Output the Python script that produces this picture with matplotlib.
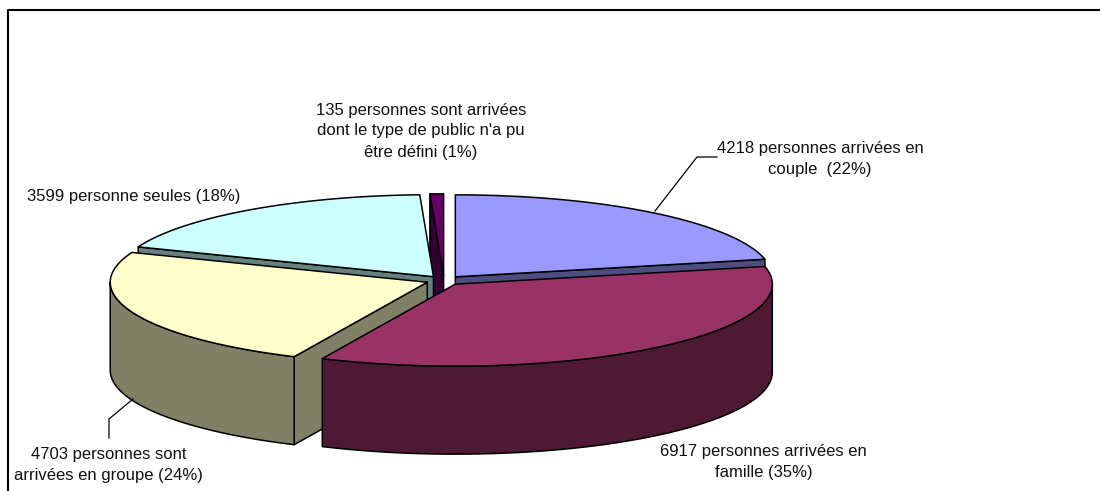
import numpy as np
import matplotlib
matplotlib.use('Agg')
import matplotlib.pyplot as plt
from matplotlib.patches import Polygon

plt.rcParams['font.family'] = ['Liberation Sans', 'DejaVu Sans']

# values, clockwise from 12 o'clock
counts = [4218, 6917, 4703, 3599, 135]
top_colors = ['#9999FF', '#993366', '#FFFFCC', '#CCFFFF', '#660066']
side_colors = ['#4D4D80', '#4D1933', '#808066', '#668080', '#330033']
labels = [
    "4218 personnes arrivées en\ncouple  (22%)",
    "6917 personnes arrivées en\nfamille (35%)",
    "4703 personnes sont\narrivées en groupe (24%)",
    "3599 personne seules (18%)",
    "135 personnes sont arrivées\ndont le type de public n'a pu\nêtre défini (1%)",
]
label_pos = [(820, 159), (763.5, 462), (108.5, 465), (133.5, 196), (421, 131)]

# pie geometry in pixels
cx, cy = 444, 280.5
rx, ry = 317, 82
depth = 88
explode = 0.057


def rim(theta, center):
    return center[0] + rx * np.sin(theta), center[1] - ry * np.cos(theta)


def poly(xs, ys, color, z):
    ax.add_patch(Polygon(np.column_stack([xs, ys]), closed=True, fc=color, ec='black',
                         lw=1.1, joinstyle='round', zorder=z))


def cut_face(theta, center, color, z):
    x0, y0 = rim(theta, center)
    poly([center[0], x0, x0, center[0]],
         [center[1], y0, y0 + depth, center[1] + depth], color, z)


fig = plt.figure(figsize=(11, 4.91), dpi=100)
ax = fig.add_axes([0, 0, 1, 1])
ax.set_xlim(0, 1100)
ax.set_ylim(491, 0)
ax.axis('off')

# chart frame, only its top and left sides are in the picture
ax.plot([1100, 8, 8], [10, 10, 491], color='black', lw=1.5, zorder=1)

edges = 2 * np.pi * np.cumsum([0] + counts) / sum(counts)

# back to front so nearer slices hide the farther ones
for z, i in enumerate([4, 0, 3, 2, 1], start=2):
    t0, t1 = edges[i], edges[i + 1]
    mid = (t0 + t1) / 2
    c = (cx + explode * rx * np.sin(mid), cy - explode * ry * np.cos(mid))
    # a cut face shows only when it looks towards the viewer
    if np.sin(t0) < -1e-9:
        cut_face(t0, c, side_colors[i], z)
    if np.sin(t1) > 1e-9:
        cut_face(t1, c, side_colors[i], z)
    # outer wall, front half of the rim only
    a0, a1 = max(t0, np.pi / 2), min(t1, 3 * np.pi / 2)
    if a1 > a0:
        th = np.linspace(a0, a1, 200)
        xs, ys = rim(th, c)
        poly(np.r_[xs, xs[::-1]], np.r_[ys, ys[::-1] + depth], side_colors[i], z)
    th = np.linspace(t0, t1, 200)
    xs, ys = rim(th, c)
    poly(np.r_[c[0], xs], np.r_[c[1], ys], top_colors[i], z)

# leader lines
ax.plot([655, 697, 717], [211, 157, 157], color='black', lw=0.9, zorder=10)
ax.plot([133, 109, 109], [399, 419, 438], color='black', lw=0.9, zorder=10)

for text, (x, y) in zip(labels, label_pos):
    ax.text(x, y, text, ha='center', va='center', fontsize=12, color='#111111',
            linespacing=1.5, zorder=11)

fig.savefig('out.png', dpi=100)
plt.close(fig)
